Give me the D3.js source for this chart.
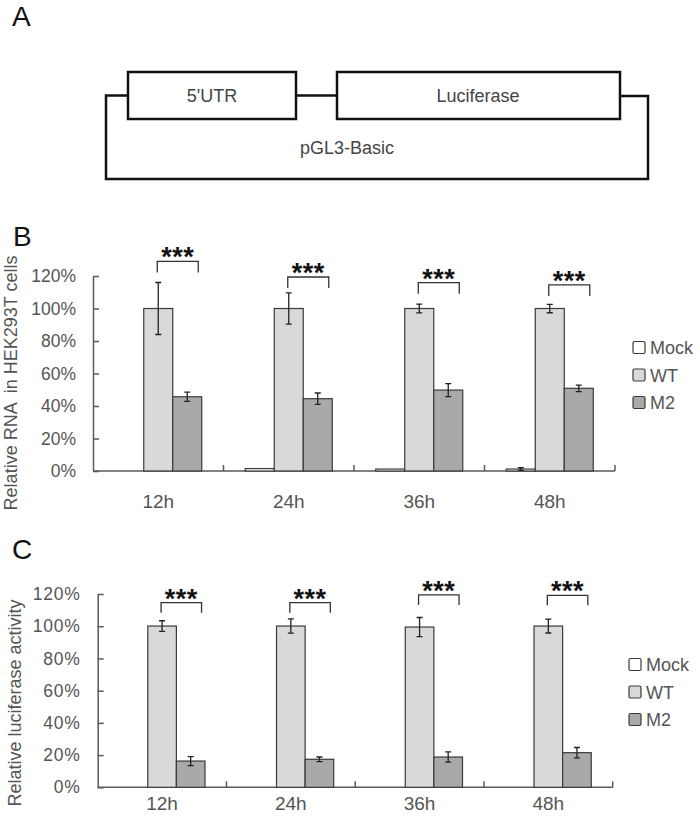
<!DOCTYPE html>
<html><head><meta charset="utf-8">
<script src="https://cdn.jsdelivr.net/npm/d3@7"></script>
<style>
body{margin:0;background:#fff}
text{font-family:Arial,"Liberation Sans",sans-serif}
</style>
</head><body>
<svg id="c" width="700" height="825"></svg>
<script>
// ---------- data ----------
const categories = ["12h", "24h", "36h", "48h"];
const seriesNames = ["Mock", "WT", "M2"];
const yTicks = [0, 20, 40, 60, 80, 100, 120];

// Panel B: relative RNA in HEK293T cells (%)
const rnaMock    = [0, 1.5, 1.2, 1.2];
const rnaMockErr = [0, 0, 0, 0.8];
const rnaWT      = [100, 100, 100, 100];
const rnaWTErr   = [16, 9.6, 2.7, 2.6];
const rnaM2      = [45.7, 44.5, 49.8, 50.9];
const rnaM2Err   = [2.8, 3.5, 4.0, 2.0];
const rnaSigLevel = [129, 119.4, 115.9, 114.5];

// Panel C: relative luciferase activity (%)
const lucMock    = [0, 0, 0, 0];
const lucMockErr = [0, 0, 0, 0];
const lucWT      = [100.1, 100.1, 99.5, 100.1];
const lucWTErr   = [3.3, 4.4, 5.9, 4.3];
const lucM2      = [16.3, 17.4, 18.8, 21.5];
const lucM2Err   = [2.8, 1.4, 3.2, 3.2];
const lucSigLevel = [114.6, 114.6, 119.4, 119.2];

const sigLabels = ["***", "***", "***", "***"];

// ---------- styles ----------
const fills = {Mock: "#ffffff", WT: "#d9d9d9", M2: "#a9a9a9"};
const axisColor = "#5a5a5a";
const textColor = "#555555";

const svg = d3.select("#c");
svg.append("rect").attr("width", 700).attr("height", 825).attr("fill", "#fff");

function panelLabel(t, x, y) {
  svg.append("text").attr("x", x).attr("y", y).attr("font-size", 28)
    .attr("fill", "#111").text(t);
}
panelLabel("A", 12, 26);
panelLabel("B", 13, 246);
panelLabel("C", 12, 559);

// ---------- Panel A: construct diagram ----------
const gA = svg.append("g");
const dark = "#111";
gA.append("path")
  .attr("d", "M128,95.5 H106 V179 H648 V96 H620")
  .attr("fill", "none").attr("stroke", dark).attr("stroke-width", 2.5);
gA.append("path").attr("d", "M296,95.5 H337")
  .attr("fill", "none").attr("stroke", dark).attr("stroke-width", 2.5);
gA.append("rect").attr("x", 128).attr("y", 72).attr("width", 168).attr("height", 47)
  .attr("fill", "#fff").attr("stroke", dark).attr("stroke-width", 2.5);
gA.append("rect").attr("x", 337).attr("y", 72).attr("width", 283).attr("height", 47)
  .attr("fill", "#fff").attr("stroke", dark).attr("stroke-width", 2.5);
gA.append("text").attr("x", 212).attr("y", 102).attr("text-anchor", "middle")
  .attr("font-size", 18).attr("fill", "#444").text("5'UTR");
gA.append("text").attr("x", 478).attr("y", 102).attr("text-anchor", "middle")
  .attr("font-size", 18).attr("fill", "#444").text("Luciferase");
gA.append("text").attr("x", 347).attr("y", 154).attr("text-anchor", "middle")
  .attr("font-size", 18).attr("fill", "#444").text("pGL3-Basic");

// ---------- bar panels ----------
function barPanel(cfg) {
  const g = svg.append("g");
  const x = d3.scaleBand().domain(categories).range([cfg.x0, cfg.x1]).padding(0);
  const bw = x.bandwidth() / 4.5;
  const inner = d3.scaleBand().domain(seriesNames).range([0.75 * bw, 3.75 * bw]).padding(0);
  const y = d3.scaleLinear().domain([0, 120]).range([cfg.y0, cfg.y120]);

  // y axis
  const yAxis = d3.axisLeft(y).tickValues(yTicks).tickFormat(d => d + "%")
    .tickSizeInner(-6).tickSizeOuter(0).tickPadding(cfg.tickPad);
  const ya = g.append("g").attr("transform", `translate(${cfg.x0},0)`).call(yAxis);
  ya.select(".domain").attr("stroke", axisColor).attr("stroke-width", 1.5);
  ya.selectAll(".tick line").attr("stroke", axisColor).attr("stroke-width", 1.5);
  ya.selectAll(".tick text").attr("font-size", 17.5).attr("fill", textColor)
    .attr("font-family", "Arial, 'Liberation Sans', sans-serif")
    .attr("letter-spacing", cfg.tickLS);

  // x axis baseline + boundary ticks
  g.append("line").attr("x1", cfg.x0).attr("x2", cfg.x1)
    .attr("y1", cfg.y0).attr("y2", cfg.y0)
    .attr("stroke", axisColor).attr("stroke-width", 1.5);
  g.selectAll("line.bt").data(categories).join("line").attr("class", "bt")
    .attr("x1", d => x(d) + x.step()).attr("x2", d => x(d) + x.step())
    .attr("y1", cfg.y0).attr("y2", cfg.y0 - 6)
    .attr("stroke", axisColor).attr("stroke-width", 1.5);
  const xAxis = d3.axisBottom(x).tickSize(0).tickPadding(cfg.xLabPad);
  const xa = g.append("g").attr("transform", `translate(0,${cfg.y0})`).call(xAxis);
  xa.select(".domain").remove();
  xa.selectAll(".tick text").attr("font-size", 19).attr("fill", textColor)
    .attr("font-family", "Arial, 'Liberation Sans', sans-serif");

  // bars
  const rows = [];
  categories.forEach((c, i) => {
    seriesNames.forEach((s, j) => {
      rows.push({c, s, v: cfg.vals[j][i], e: cfg.errs[j][i]});
    });
  });
  g.selectAll("rect.bar").data(rows).join("rect").attr("class", "bar")
    .attr("x", d => x(d.c) + inner(d.s))
    .attr("width", inner.bandwidth())
    .attr("y", d => y(d.v))
    .attr("height", d => y(0) - y(d.v))
    .attr("fill", d => fills[d.s])
    .attr("stroke", "#3a3a3a").attr("stroke-width", 1.2)
    .attr("display", d => d.v > 0 ? null : "none");

  // error bars
  const eb = rows.filter(d => d.e > 0);
  const cx = d => x(d.c) + inner(d.s) + inner.bandwidth() / 2;
  const errG = g.append("g").attr("stroke", "#222").attr("stroke-width", 1.3);
  errG.selectAll("path").data(eb).join("path")
    .attr("fill", "none")
    .attr("d", d => {
      const xc = cx(d), t = y(d.v + d.e), b = y(d.v - d.e);
      return `M${xc - 3},${t} H${xc + 3} M${xc},${t} V${b} M${xc - 3},${b} H${xc + 3}`;
    });

  // significance brackets
  categories.forEach((c, i) => {
    const xl = x(c) + inner("WT") + inner.bandwidth() / 2 - 1;
    const xr = x(c) + inner("M2") + inner.bandwidth() * 0.88;
    const yb = y(cfg.sig[i]);
    g.append("path")
      .attr("d", `M${xl},${yb + cfg.leg} V${yb} H${xr} V${yb + cfg.leg}`)
      .attr("fill", "none").attr("stroke", "#333").attr("stroke-width", 1.3);
    g.append("text").attr("x", (xl + xr) / 2).attr("y", yb + 5)
      .attr("text-anchor", "middle").attr("font-size", 27).attr("font-weight", "bold")
      .attr("letter-spacing", 0.5).attr("fill", "#111")
      .text(sigLabels[i]);
  });

  // y title
  g.append("text")
    .attr("transform", `translate(${cfg.titleX},${cfg.titleY}) rotate(-90)`)
    .attr("text-anchor", "middle").attr("font-size", 18).attr("fill", textColor)
    .attr("xml:space", "preserve").style("white-space", "pre")
    .text(cfg.title);

  // legend
  const lg = g.append("g");
  seriesNames.forEach((s, j) => {
    const cy = cfg.legY + j * 27.5;
    lg.append("rect").attr("x", cfg.legX).attr("y", cy - 6).attr("width", 12).attr("height", 12)
      .attr("rx", 1.5).attr("fill", fills[s]).attr("stroke", "#3a3a3a").attr("stroke-width", 1.2);
    lg.append("text").attr("x", cfg.legX + 17).attr("y", cy + 6.5)
      .attr("font-size", 18).attr("fill", textColor).text(s);
  });
}

barPanel({
  x0: 93, x1: 615, y0: 471, y120: 276, tickPad: 17, tickLS: 0, xLabPad: 24,
  vals: [rnaMock, rnaWT, rnaM2], errs: [rnaMockErr, rnaWTErr, rnaM2Err],
  sig: rnaSigLevel, leg: 11,
  title: "Relative RNA  in HEK293T cells", titleX: 17, titleY: 383,
  legX: 633, legY: 347.5
});
barPanel({
  x0: 97.7, x1: 612.7, y0: 787.3, y120: 594, tickPad: 17, tickLS: 0.8, xLabPad: 9,
  vals: [lucMock, lucWT, lucM2], errs: [lucMockErr, lucWTErr, lucM2Err],
  sig: lucSigLevel, leg: 10,
  title: "Relative luciferase activity", titleX: 21, titleY: 703,
  legX: 629, legY: 664.5
});
</script>
</body></html>
